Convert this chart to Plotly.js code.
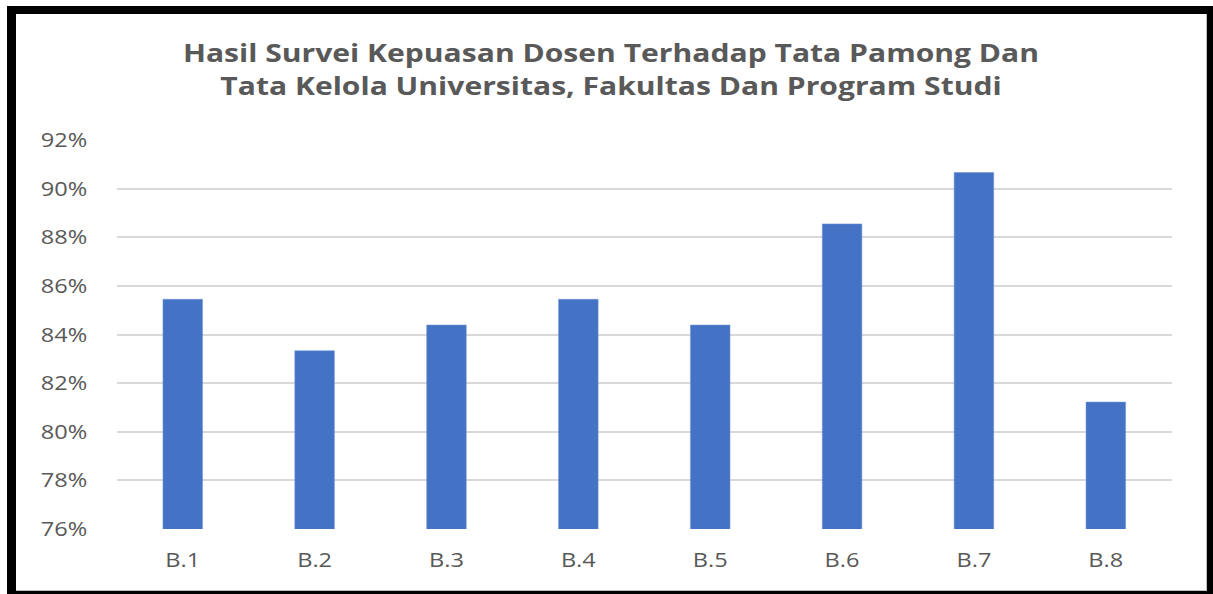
<!DOCTYPE html>
<html><head><meta charset="utf-8">
<script src="https://cdn.plot.ly/plotly-3.0.1.min.js"></script>
<style>
body{margin:0;background:#fff;overflow:hidden;}
#wrap{position:relative;width:1213px;height:594px;overflow:hidden;}
#chart{position:absolute;left:0;top:0;width:1028px;height:594px;transform:scaleX(1.18);transform-origin:0 0;}
#frame{position:absolute;left:7px;top:6px;width:1206px;height:588px;box-sizing:border-box;border-style:solid;border-color:#000;border-width:8px 6px 3px 9px;pointer-events:none;}
#inner{position:absolute;left:16px;top:14px;width:1191px;height:577px;box-sizing:border-box;border-right:1px solid #bfbfbf;border-bottom:1px solid #bfbfbf;pointer-events:none;}
</style></head>
<body>
<div id="wrap"><div id="chart"></div><div id="inner"></div><div id="frame"></div></div>
<script>
const categories = ["B.1","B.2","B.3","B.4","B.5","B.6","B.7","B.8"];
const values = [85.45, 83.33, 84.39, 85.45, 84.39, 88.55, 90.66, 81.22];
const titleText = "Hasil Survei Kepuasan Dosen Terhadap Tata Pamong Dan<br>Tata Kelola Universitas, Fakultas Dan Program Studi";

const trace = {
  type: 'bar', x: categories, y: values,
  marker: {color: '#4472C4', line: {color: '#6f93d6', width: 0.5}},
  hoverinfo: 'x+y'
};
const layout = {
  width: 1028, height: 594,
  margin: {l: 99, r: 35, t: 140, b: 65},
  paper_bgcolor: '#fff', plot_bgcolor: '#fff',
  bargap: 0.7,
  showlegend: false,
  font: {family: '"Open Sans", "DejaVu Sans", sans-serif', color: '#595959'},
  title: {
    text: titleText,
    font: {family: '"Open Sans", sans-serif', size: 25.5, color: '#595959', weight: 'bold'},
    x: 0.5037, xref: 'container', xanchor: 'center',
    y: 1 - 62/594, yref: 'container', yanchor: 'top'
  },
  xaxis: {
    type: 'category',
    tickfont: {size: 20, color: '#595959'},
    showgrid: false, zeroline: false, showline: false,
    ticks: 'outside', ticklen: 13, tickcolor: 'rgba(0,0,0,0)'
  },
  yaxis: {
    range: [76, 92], dtick: 2, tick0: 76,
    ticksuffix: '%',
    tickfont: {size: 20, color: '#595959'},
    gridcolor: '#d9d9d9', gridwidth: 2,
    zeroline: false, showline: false,
    ticks: 'outside', ticklen: 20, tickcolor: 'rgba(0,0,0,0)'
  }
};
Plotly.newPlot('chart', [trace], layout, {displayModeBar: false, staticPlot: true});
</script>
</body></html>
